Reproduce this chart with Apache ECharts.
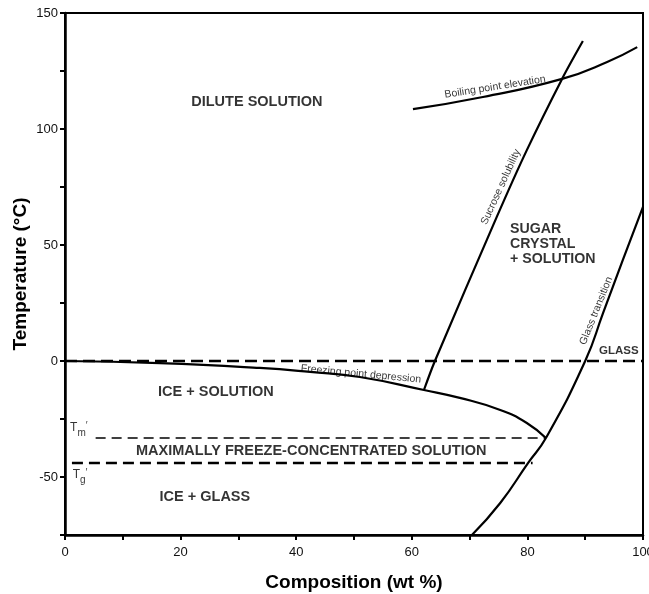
<!DOCTYPE html>
<html><head><meta charset="utf-8">
<script src="https://cdn.jsdelivr.net/npm/echarts@6/dist/echarts.min.js"></script>
<style>html,body{margin:0;padding:0;background:#fff}#c{width:649px;height:594px}</style>
</head><body><div id="c"></div><script>
// Curves (composition wt %, temperature °C)
const freezeX = [0, 16.4, 33.7, 42.4, 51, 62.1, 68.3, 75.3, 79.9, 83.2];
const freezeT = [0, -0.9, -3.0, -4.7, -6.9, -12.5, -15.9, -21.1, -26.7, -33.2];
const solubX = [62.1, 64.0, 74.7, 79.9, 86.0, 89.6];
const solubT = [-12.5, 0, 62.1, 90.9, 121.6, 137.9];
const boilX = [60.2, 72.3, 86.0, 93.8, 99.0];
const boilT = [108.6, 113.8, 121.6, 128.9, 135.3];
const glassX = [70.4, 75.3, 80.1, 83.2, 90.0, 93.1, 96.5, 100];
const glassT = [-75, -61.2, -44, -33.2, 0, 20.7, 43.5, 66.4];
const zeroX = [0, 100];
const zeroT = [0, 0];
const tmX = [5.3, 83.2];
const tmT = [-33.2, -33.2];
const tgX = [1.2, 80.9];
const tgT = [-44, -44];
// Annotations (text, x, T, rotation)
const regionText = ['DILUTE SOLUTION', 'ICE + SOLUTION', 'MAXIMALLY FREEZE-CONCENTRATED SOLUTION', 'ICE + GLASS'];
const regionX = [33.2, 26.1, 42.6, 24.2];
const regionT = [111.6, -13.4, -38.8, -58.6];
const leftText = ['SUGAR\nCRYSTAL\n+ SOLUTION', 'GLASS'];
const leftX = [77.0, 92.4];
const leftT = [50.4, 4.3];
const curveText = ['Boiling point elevation', 'Sucrose solubility', 'Glass transition', 'Freezing point depression'];
const curveX = [74.4, 75.4, 91.9, 51.2];
const curveT = [118.1, 75, 21.6, -5.6];
const curveRot = [9, 65.5, 68, -5.4];
const symText = ['{t|T}{s|m}{p|\u2032}', '{t|T}{s|g}{p|\u2032}'];
const symX = [2.4, 2.6];
const symT = [-29.7, -50];

const zip = (xs, ys) => xs.map((x, i) => [x, ys[i]]);
const FONT = '"Liberation Sans", Arial, Helvetica, sans-serif';

const lineSeries = (xs, ys, opts) => Object.assign({
  type: 'line', data: zip(xs, ys), showSymbol: false, symbol: 'none', smooth: true,
  silent: true, lineStyle: { color: '#000', width: 2.2 }, z: 3
}, opts);

const chart = echarts.init(document.getElementById('c'), null, { renderer: 'canvas' });
chart.setOption({
  animation: false,
  backgroundColor: '#fff',
  grid: { left: 65, right: 6, top: 13, bottom: 59, show: true, borderColor: '#000', borderWidth: 2,
    containLabel: false, outerBoundsMode: 'none' },
  xAxis: {
    type: 'value', min: 0, max: 100, interval: 10,
    name: 'Composition (wt %)', nameLocation: 'middle', nameGap: 38, nameMoveOverlap: false,
    nameTextStyle: { fontFamily: FONT, fontWeight: 'bold', fontSize: 19, color: '#000' },
    axisLine: { show: true, onZero: false, lineStyle: { color: '#000', width: 2.5 } },
    axisTick: { show: true, length: 5, lineStyle: { color: '#000', width: 2 } },
    axisLabel: { fontFamily: FONT, fontSize: 13, color: '#111', margin: 11,
      formatter: v => (v % 20 === 0 ? String(v) : '') },
    splitLine: { show: false }
  },
  yAxis: {
    type: 'value', min: -75, max: 150, interval: 25,
    name: 'Temperature (°C)', nameLocation: 'middle', nameGap: 35, nameRotate: 90, nameMoveOverlap: false,
    nameTextStyle: { fontFamily: FONT, fontWeight: 'bold', fontSize: 19, color: '#000' },
    axisLine: { show: true, onZero: false, lineStyle: { color: '#000', width: 2.5 } },
    axisTick: { show: true, length: 5, lineStyle: { color: '#000', width: 2 } },
    axisLabel: { fontFamily: FONT, fontSize: 13, color: '#111', margin: 7,
      formatter: v => (v % 50 === 0 ? String(v) : '') },
    splitLine: { show: false }
  },
  series: [
    lineSeries(zeroX, zeroT, { smooth: false, lineStyle: { color: '#000', width: 2.5, type: [12, 6] }, z: 2 }),
    lineSeries(tmX, tmT, { smooth: false, lineStyle: { color: '#000', width: 1.5, type: [10, 6] }, z: 2 }),
    lineSeries(tgX, tgT, { smooth: false, lineStyle: { color: '#000', width: 2.5, type: [11, 6] }, z: 2 }),
    lineSeries(freezeX, freezeT),
    lineSeries(solubX, solubT, { smooth: 0.3 }),
    lineSeries(boilX, boilT),
    lineSeries(glassX, glassT),
    {
      type: 'scatter', symbolSize: 0, silent: true, z: 5,
      data: regionText.map((t, i) => ({ value: [regionX[i], regionT[i]], label: { formatter: t } })),
      label: { show: true, position: 'inside', fontFamily: FONT, fontWeight: 'bold', fontSize: 14.5, color: '#000' }
    },
    {
      type: 'scatter', symbolSize: 0, silent: true, z: 5,
      data: leftText.map((t, i) => ({ value: [leftX[i], leftT[i]],
        label: { formatter: t, fontSize: i === 1 ? 11.5 : 14.2, lineHeight: i === 1 ? 13 : 15 } })),
      label: { show: true, position: 'inside', align: 'left', verticalAlign: 'middle',
        fontFamily: FONT, fontWeight: 'bold', color: '#000' }
    },
    {
      type: 'scatter', symbolSize: 0, silent: true, z: 5,
      data: curveText.map((t, i) => ({ value: [curveX[i], curveT[i]], label: { formatter: t, rotate: curveRot[i] } })),
      label: { show: true, position: 'inside', fontFamily: FONT, fontSize: 10.5, color: '#000' }
    },
    {
      type: 'scatter', symbolSize: 0, silent: true, z: 5,
      data: symText.map((t, i) => ({ value: [symX[i], symT[i]], label: { formatter: t } })),
      label: { show: true, position: 'inside', fontFamily: FONT, color: '#000',
        rich: {
          t: { fontSize: 12, fontFamily: FONT, color: '#000', lineHeight: 17, verticalAlign: 'top' },
          s: { fontSize: 10, fontFamily: FONT, color: '#000', lineHeight: 17, verticalAlign: 'bottom', padding: [6, 0, 0, 0] },
          p: { fontSize: 10, fontFamily: FONT, color: '#000', lineHeight: 17, verticalAlign: 'top' }
        } }
    }
  ]
});
</script></body></html>
